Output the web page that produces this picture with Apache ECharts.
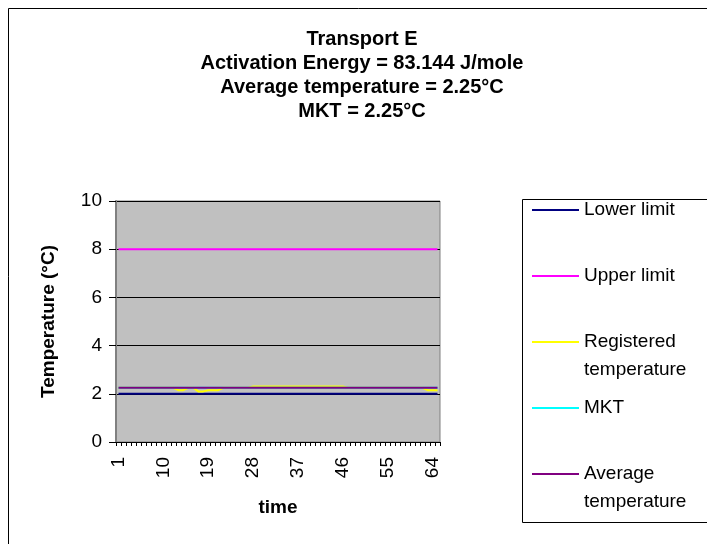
<!DOCTYPE html>
<html>
<head>
<meta charset="utf-8">
<script src="https://cdn.jsdelivr.net/npm/echarts@6/dist/echarts.min.js"></script>
<style>
html,body{margin:0;padding:0;background:#fff;}
#chart{width:707px;height:544px;}
</style>
</head>
<body>
<div id="chart"></div>
<script>
// ---- data ----
var titleLines = ["Transport E", "Activation Energy = 83.144 J/mole", "Average temperature = 2.25°C", "MKT = 2.25°C"];
var categories = [];
for (var i = 1; i <= 65; i++) categories.push(String(i));
var lowerLimit = [2,2,2,2,2,2,2,2,2,2,2,2,2,2,2,2,2,2,2,2,2,2,2,2,2,2,2,2,2,2,2,2,2,2,2,2,2,2,2,2,2,2,2,2,2,2,2,2,2,2,2,2,2,2,2,2,2,2,2,2,2,2,2,2,2];
var upperLimit = [8,8,8,8,8,8,8,8,8,8,8,8,8,8,8,8,8,8,8,8,8,8,8,8,8,8,8,8,8,8,8,8,8,8,8,8,8,8,8,8,8,8,8,8,8,8,8,8,8,8,8,8,8,8,8,8,8,8,8,8,8,8,8,8,8];
var registered = [
  2.25,2.25,2.25,2.25,2.25,2.25,2.25,2.25,2.25,2.25,
  2.25,2.25,2.15,2.15,2.25,2.25,2.1,2.1,2.15,2.15,
  2.15,2.25,2.25,2.25,2.25,2.25,2.25,2.3,2.3,2.3,
  2.3,2.3,2.3,2.3,2.3,2.3,2.3,2.3,2.3,2.3,
  2.3,2.3,2.3,2.3,2.3,2.3,2.25,2.25,2.25,2.25,
  2.25,2.25,2.25,2.25,2.25,2.25,2.25,2.25,2.25,2.25,
  2.25,2.25,2.15,2.15,2.15
];
var mkt = [2.25,2.25,2.25,2.25,2.25,2.25,2.25,2.25,2.25,2.25,2.25,2.25,2.25,2.25,2.25,2.25,2.25,2.25,2.25,2.25,2.25,2.25,2.25,2.25,2.25,2.25,2.25,2.25,2.25,2.25,2.25,2.25,2.25,2.25,2.25,2.25,2.25,2.25,2.25,2.25,2.25,2.25,2.25,2.25,2.25,2.25,2.25,2.25,2.25,2.25,2.25,2.25,2.25,2.25,2.25,2.25,2.25,2.25,2.25,2.25,2.25,2.25,2.25,2.25,2.25];
var average = [2.25,2.25,2.25,2.25,2.25,2.25,2.25,2.25,2.25,2.25,2.25,2.25,2.25,2.25,2.25,2.25,2.25,2.25,2.25,2.25,2.25,2.25,2.25,2.25,2.25,2.25,2.25,2.25,2.25,2.25,2.25,2.25,2.25,2.25,2.25,2.25,2.25,2.25,2.25,2.25,2.25,2.25,2.25,2.25,2.25,2.25,2.25,2.25,2.25,2.25,2.25,2.25,2.25,2.25,2.25,2.25,2.25,2.25,2.25,2.25,2.25,2.25,2.25,2.25,2.25];
var seriesNames = ["Lower limit", "Upper limit", "Registered\ntemperature", "MKT", "Average\ntemperature"];
var seriesColors = ["#000080", "#FF00FF", "#FFFF00", "#00FFFF", "#800080"];
var seriesData = [lowerLimit, upperLimit, registered, mkt, average];
var yTicks = {min: 0, max: 10, interval: 2};

// ---- chart ----
var FONT = "'Liberation Sans', Arial, sans-serif";
var chart = echarts.init(document.getElementById('chart'), null, {renderer: 'canvas'});

var legendTops = [210, 276, 342, 408, 474];
// icon for two-line entries: line at the top of a taller (otherwise empty) box
var topLineIcon = 'path://M0,0L47,0L47,2L0,2Z M0,29.99L0.01,29.99L0.01,30L0,30Z';
var legends = seriesNames.map(function (name, k) {
  var twoLine = name.indexOf('\n') >= 0;
  return {
    orient: 'vertical',
    left: 532,
    top: legendTops[k] - 14,
    padding: 0,
    itemWidth: 47,
    itemHeight: twoLine ? 30 : 2,
    icon: twoLine ? topLineIcon : 'rect',
    data: [name],
    textStyle: {fontFamily: FONT, fontSize: 19, color: '#000', lineHeight: 28}
  };
});

var series = seriesNames.map(function (name, k) {
  return {
    name: name,
    type: 'line',
    data: seriesData[k],
    symbol: 'none',
    animation: false,
    lineStyle: {color: seriesColors[k], width: 2},
    itemStyle: {color: seriesColors[k]},
    z: 2 + k
  };
});

chart.setOption({
  animation: false,
  backgroundColor: '#fff',
  title: {
    text: titleLines.join('\n'),
    left: 362,
    top: 27,
    padding: 0,
    textAlign: 'center',
    textStyle: {fontFamily: FONT, fontSize: 20, fontWeight: 'bold', color: '#000', lineHeight: 24}
  },
  legend: legends,
  graphic: [
    {type: 'rect', shape: {x: 8.5, y: 8.5, width: 720, height: 560}, style: {fill: null, stroke: '#000', lineWidth: 1}, silent: true, z: -10},
    {type: 'rect', shape: {x: 522.5, y: 199.5, width: 200, height: 323}, style: {fill: '#fff', stroke: '#000', lineWidth: 1}, silent: true, z: -5}
  ],
  grid: {
    left: 116, top: 201, width: 324, height: 241,
    show: true, backgroundColor: '#C0C0C0', borderColor: '#808080', borderWidth: 1
  },
  xAxis: {
    type: 'category',
    data: categories,
    boundaryGap: true,
    name: 'time',
    nameLocation: 'middle',
    nameGap: 56,
    nameTextStyle: {fontFamily: FONT, fontSize: 19, fontWeight: 'bold', color: '#000'},
    axisLine: {lineStyle: {color: '#000', width: 1}},
    axisTick: {show: true, interval: 0, length: 4, lineStyle: {color: '#000'}},
    axisLabel: {interval: 8, rotate: 90, margin: 15, fontFamily: FONT, fontSize: 19, color: '#000'},
    splitLine: {show: false}
  },
  yAxis: {
    type: 'value',
    min: yTicks.min, max: yTicks.max, interval: yTicks.interval,
    name: 'Temperature (°C)',
    nameLocation: 'middle',
    nameGap: 58,
    nameTextStyle: {fontFamily: FONT, fontSize: 19, fontWeight: 'bold', color: '#000'},
    axisLine: {show: true, lineStyle: {color: '#808080', width: 2}},
    axisTick: {show: true, length: 7, lineStyle: {color: '#000'}},
    axisLabel: {margin: 14, fontFamily: FONT, fontSize: 19, color: '#000'},
    splitLine: {show: true, lineStyle: {color: '#000', width: 1}}
  },
  series: series
});
</script>
</body>
</html>
